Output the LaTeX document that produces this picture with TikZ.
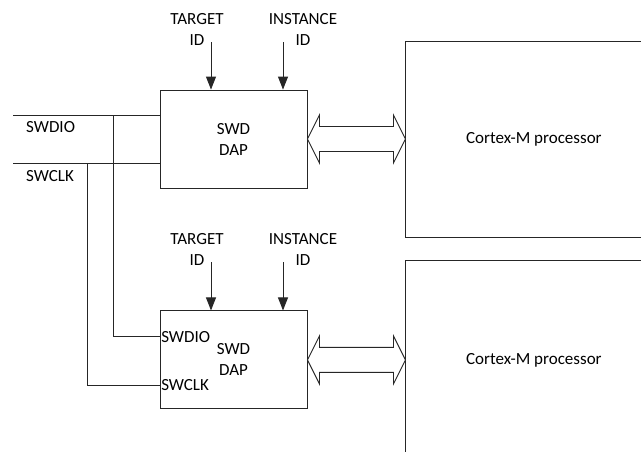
\documentclass[tikz,border=0pt]{standalone}
\usepackage{fontspec}
\setmainfont{Carlito}
\usepackage{tikz}
\usetikzlibrary{arrows.meta,positioning,calc}
\definecolor{swdLine}{HTML}{262626}
\tikzset{
  dapbox/.style={
    draw=swdLine,
    line width=0.9pt,
    align=center,
    minimum width=147pt,
    minimum height=98pt,
    inner sep=0pt
  },
  cpubox/.style={
    draw=swdLine,
    line width=0.9pt,
    align=center,
    minimum width=256pt,
    minimum height=196pt
  },
  idlabel/.style={align=center, inner sep=0pt},
  pinlabel/.style={anchor=west, inner sep=1.5pt},
  sigline/.style={draw=swdLine, line width=0.9pt},
  idarrow/.style={-{Triangle[length=13pt,width=10pt]}, line width=0.9pt, draw=swdLine},
  busarrow/.style={draw=swdLine, line width=0.9pt, fill=white}
}

\begin{document}
\begin{tikzpicture}[x=1pt, y=-1pt, font=\fontsize{17}{21}\selectfont]
  \clip (0,0) rectangle (641,451);

  % two debug ports, each with its core
  \node[dapbox] (dapA) at (233.5,139) {SWD\\DAP};
  \node[dapbox, below=122pt of dapA] (dapB) {SWD\\DAP};
  \node[cpubox, right=98pt of dapA] (cpuA) {Cortex-M processor};
  \node[cpubox, minimum height=198pt, right=98pt of dapB] (cpuB) {Cortex-M processor};

  % id inputs
  \node[idlabel] (tgtA) at (197,29.5) {TARGET\\ID};
  \node[idlabel] (insA) at (303,29.5) {INSTANCE\\ID};
  \node[idlabel] (tgtB) at (197,249.5) {TARGET\\ID};
  \node[idlabel] (insB) at (303,249.5) {INSTANCE\\ID};
  \coordinate (tgtAin) at (211,42);
  \coordinate (insAin) at (283,42);
  \coordinate (tgtBin) at (211,262);
  \coordinate (insBin) at (283,262);
  \draw[idarrow] (tgtAin) -- (tgtAin |- dapA.north);
  \draw[idarrow] (insAin) -- (insAin |- dapA.north);
  \draw[idarrow] (tgtBin) -- (tgtBin |- dapB.north);
  \draw[idarrow] (insBin) -- (insBin |- dapB.north);

  % shared serial wire lines
  \coordinate (dioIn) at (13,115);
  \coordinate (clkIn) at (13,163);
  \coordinate (dioTap) at (113,115);
  \coordinate (clkTap) at (87,163);
  \node[anchor=west, inner sep=0pt] (dioLbl) at (26,127) {SWDIO};
  \node[anchor=west, inner sep=0pt] (clkLbl) at (26,176) {SWCLK};
  \node[pinlabel] (dioPin) at ($(dapB.west)+(0,-23.3)$) {SWDIO};
  \node[pinlabel] (clkPin) at ($(dapB.west)+(0,25.3)$) {SWCLK};
  \draw[sigline] (dioIn) -- (dioIn -| dapA.west);
  \draw[sigline] (clkIn) -- (clkIn -| dapA.west);
  \draw[sigline] (dioTap) |- (dioPin.west);
  \draw[sigline] (clkTap) |- (clkPin.west);

  % buses to the cores
  \draw[busarrow] (dapA.east) -- ++(12,-24) -- ++(0,11.5) -- ++(74,0) -- ++(0,-11.5)
    -- (cpuA.west) -- ++(-12,24) -- ++(0,-11.5) -- ++(-74,0) -- ++(0,11.5) -- cycle;
  \draw[busarrow] (dapB.east) -- ++(12,-24) -- ++(0,11.5) -- ++(74,0) -- ++(0,-11.5)
    -- (cpuB.west) -- ++(-12,24) -- ++(0,-11.5) -- ++(-74,0) -- ++(0,11.5) -- cycle;
\end{tikzpicture}
\end{document}
